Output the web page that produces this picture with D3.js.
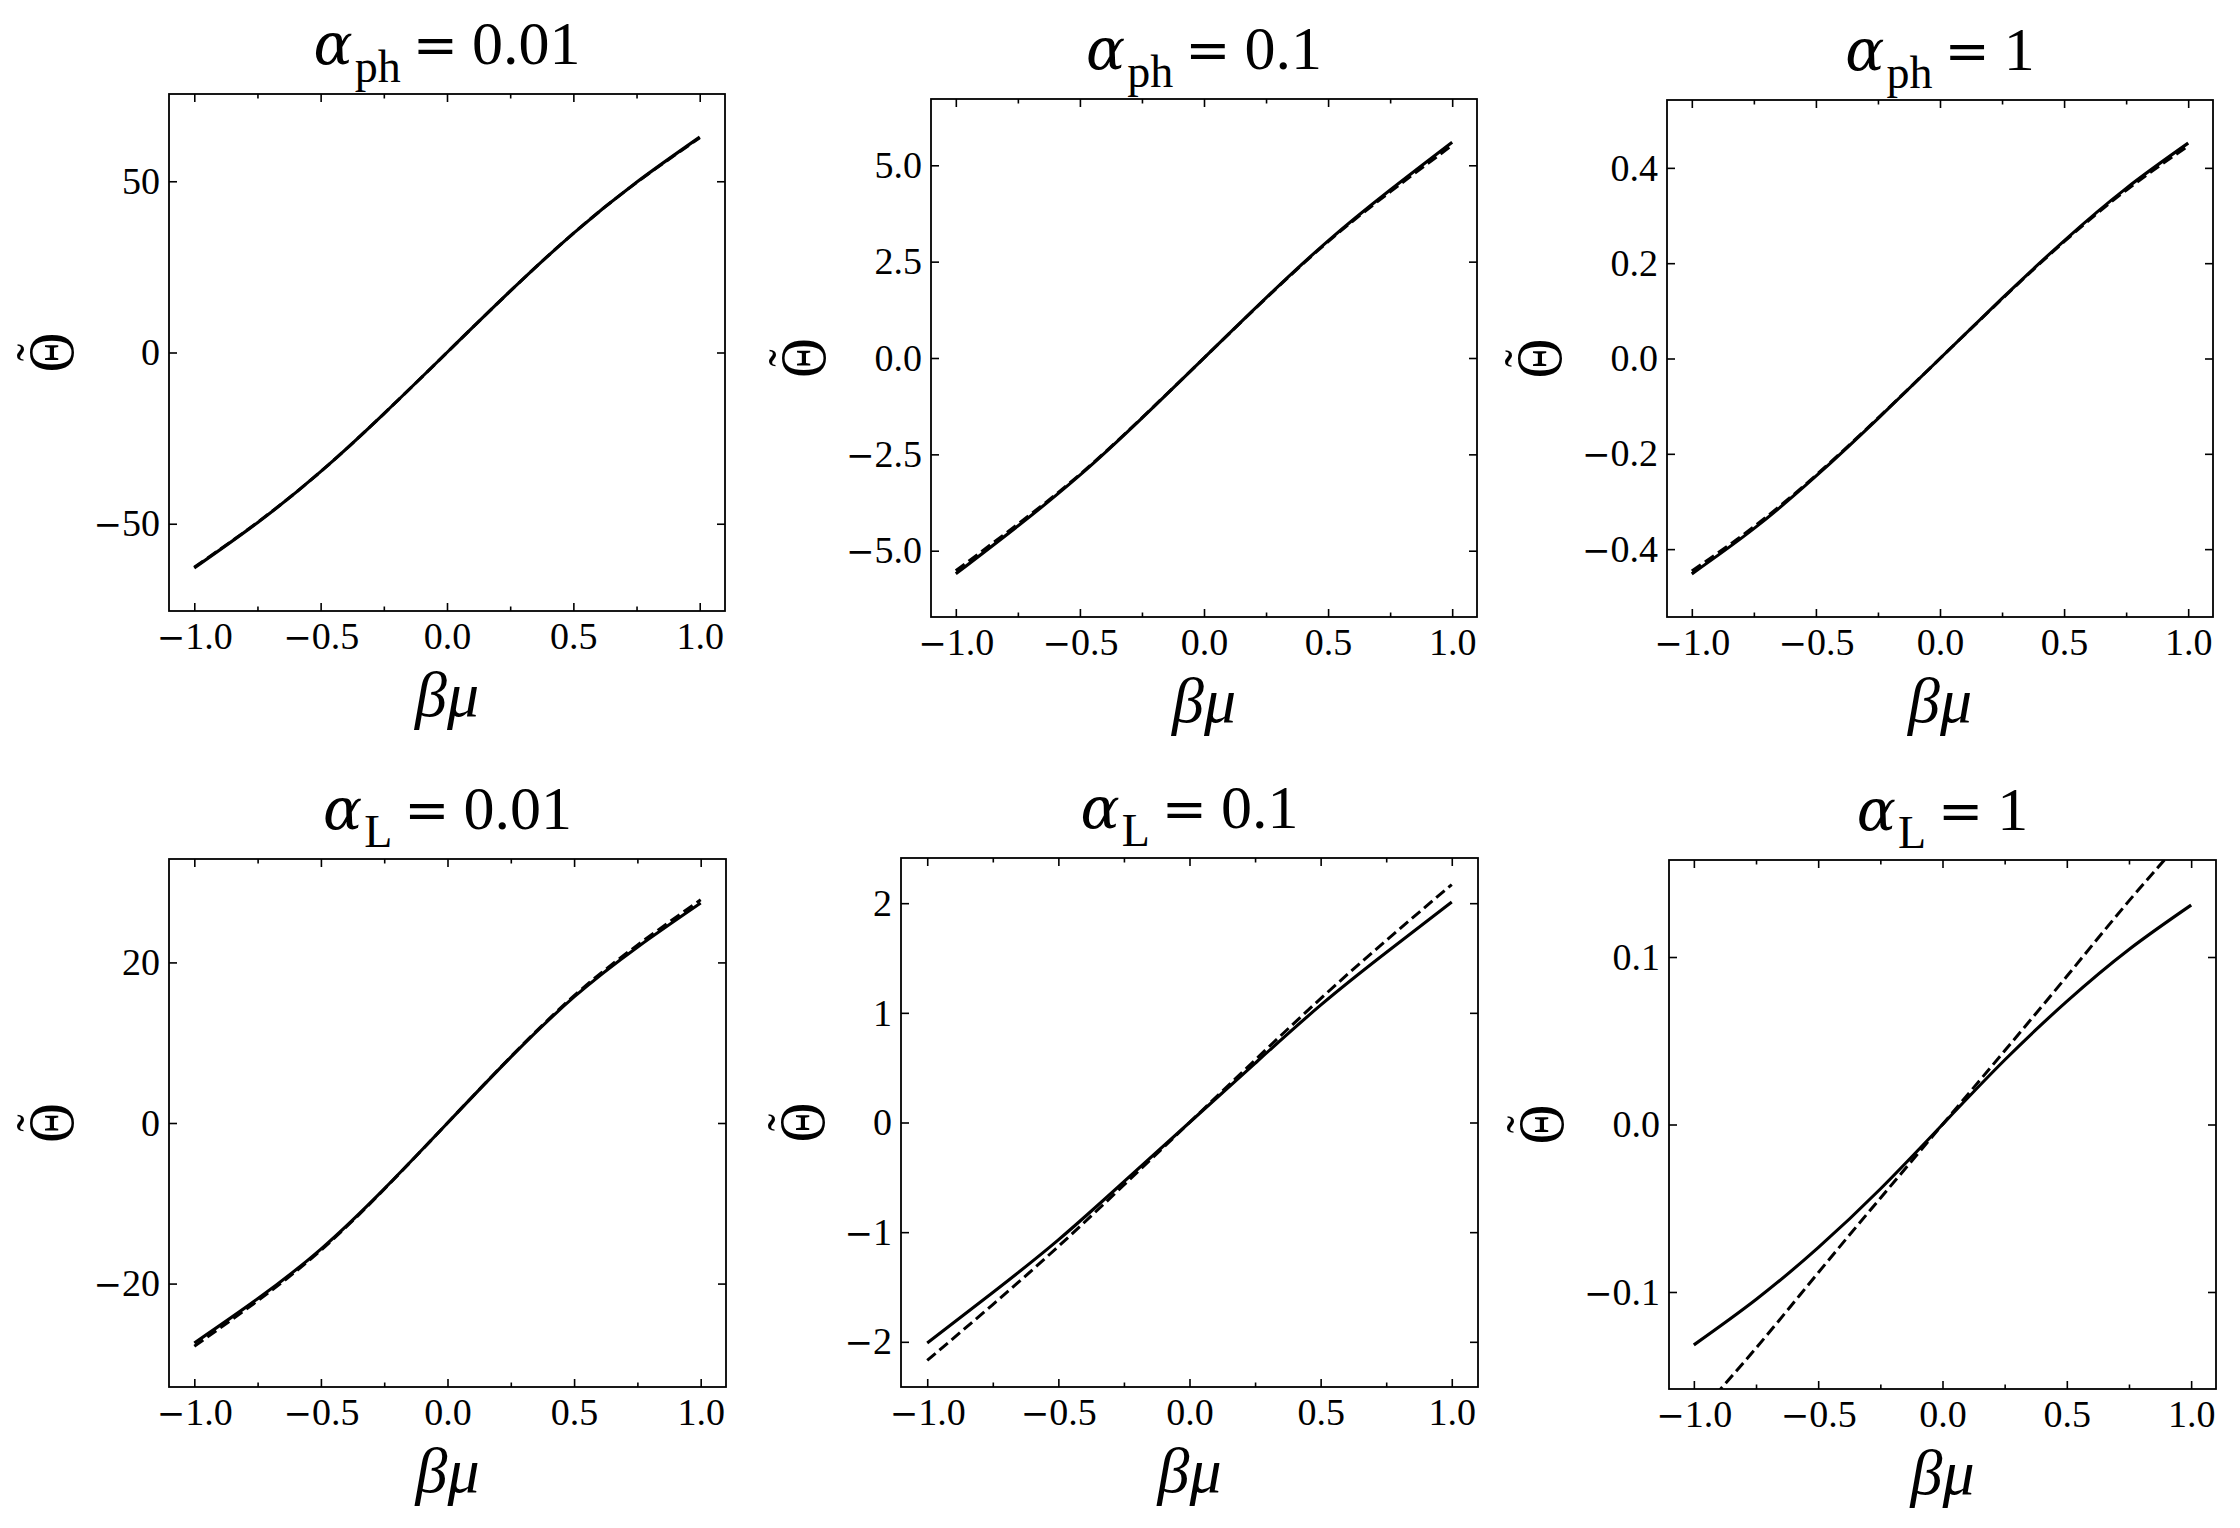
<!DOCTYPE html>
<html><head><meta charset="utf-8">
<script src="https://cdn.jsdelivr.net/npm/d3@7"></script>
<style>body{margin:0;background:#fff} svg{display:block}</style>
</head><body>
<svg id="chart" width="2240" height="1528"></svg>
<script>
// ---- data ----
const xValues = [-1, -0.75, -0.5, -0.25, 0, 0.25, 0.5, 0.75, 1];

const solidPh001  = [-62.9, -49.7, -34.8, -17.9, 0, 17.9, 34.8, 49.7, 62.9];
const dashedPh001 = [-62.7, -49.6, -34.8, -17.9, 0, 17.9, 34.8, 49.6, 62.7];
const solidPh01   = [-5.6, -4.36, -3.04, -1.56, 0, 1.56, 3.04, 4.36, 5.6];
const dashedPh01  = [-5.52, -4.31, -3.02, -1.55, 0, 1.55, 3.02, 4.31, 5.52];
const solidPh1    = [-0.452, -0.357, -0.247, -0.126, 0, 0.126, 0.247, 0.357, 0.452];
const dashedPh1   = [-0.446, -0.353, -0.245, -0.125, 0, 0.125, 0.245, 0.353, 0.446];
const solidL001   = [-27.4, -21.9, -15.7, -8.2, 0, 8.2, 15.7, 21.9, 27.4];
const dashedL001  = [-27.8, -22.15, -15.85, -8.25, 0, 8.25, 15.85, 22.15, 27.8];
const solidL01    = [-2.01, -1.55, -1.07, -0.54, 0, 0.54, 1.07, 1.55, 2.01];
const dashedL01   = [-2.17, -1.66, -1.13, -0.57, 0, 0.57, 1.13, 1.66, 2.17];
const solidL1     = [-0.1316, -0.1045, -0.0735, -0.0385, 0, 0.0385, 0.0735, 0.1045, 0.131];
const dashedL1    = [-0.176, -0.1335, -0.0885, -0.044, 0, 0.044, 0.0885, 0.1335, 0.176];

const titleSubscripts = ["ph", "ph", "ph", "L", "L", "L"];
const titleValues = ["0.01", "0.1", "1", "0.01", "0.1", "1"];
const xTickValues = [-1, -0.5, 0, 0.5, 1];
const xMinorTickValues = [-0.75, -0.25, 0.25, 0.75];
const yTickValues = [
  [-50, 0, 50],
  [-5, -2.5, 0, 2.5, 5],
  [-0.4, -0.2, 0, 0.2, 0.4],
  [-20, 0, 20],
  [-2, -1, 0, 1, 2],
  [-0.1, 0, 0.1]
];
const yTickFormats = ["d", ".1f", ".1f", "d", "d", ".1f"];
const xLabel = "βμ";
const yLabelLetter = "Θ";
const yLabelAccent = "\u02DC";

const solidSeries = [solidPh001, solidPh01, solidPh1, solidL001, solidL01, solidL1];
const dashedSeries = [dashedPh001, dashedPh01, dashedPh1, dashedL001, dashedL01, dashedL1];

// ---- layout ----
const boxes = [
  {l: 169, r: 725, t: 94, b: 611},
  {l: 931, r: 1477, t: 99, b: 617},
  {l: 1667, r: 2213, t: 100, b: 617},
  {l: 169, r: 726, t: 859, b: 1387},
  {l: 901, r: 1478, t: 858, b: 1387},
  {l: 1669, r: 2216, t: 860, b: 1389}
];
const FONT = "'Liberation Serif', 'DejaVu Serif', serif";
const FONT_WIDE = "'DejaVu Serif', 'Liberation Serif', serif";

const svg = d3.select("#chart");
svg.append("rect").attr("width", 2240).attr("height", 1528).attr("fill", "#fff");

// use a longer minus glyph, like the TeX one
function texMinus(sel) {
  sel.each(function() {
    const el = d3.select(this);
    const s = el.text();
    if (s.startsWith("−")) {
      el.text("");
      el.append("tspan").style("font-family", FONT_WIDE).style("font-size", "34px").text("−");
      el.append("tspan").text(s.slice(1));
    }
  });
}

boxes.forEach((bx, i) => {
  const w = bx.r - bx.l, h = bx.b - bx.t;
  const g = svg.append("g").attr("transform", `translate(${bx.l},${bx.t})`);
  const x = d3.scaleLinear().domain([-1.1, 1.1]).range([0, w]);
  const m = d3.max(solidSeries[i], v => Math.abs(v)) * 1.2;
  const y = d3.scaleLinear().domain([-m, m]).range([h, 0]);

  const clipId = "clip" + i;
  g.append("clipPath").attr("id", clipId).append("rect").attr("width", w).attr("height", h);

  const line = d3.line().x((d, k) => x(xValues[k])).y(d => y(d)).curve(d3.curveNatural);
  const lines = g.append("g").attr("clip-path", `url(#${clipId})`);
  lines.append("path").datum(dashedSeries[i]).attr("d", line)
    .attr("fill", "none").attr("stroke", "#000").attr("stroke-width", 3)
    .attr("stroke-dasharray", "11,5");
  lines.append("path").datum(solidSeries[i]).attr("d", line)
    .attr("fill", "none").attr("stroke", "#000").attr("stroke-width", 3.1);

  const fmtY = d3.format(yTickFormats[i]);
  const fmtX = d3.format(".1f");

  const styleAxis = sel => {
    sel.select(".domain").remove();
    sel.selectAll(".tick line").attr("stroke", "#000").attr("stroke-width", 1.6);
    sel.selectAll(".tick text").attr("fill", "#000").style("font-family", FONT).style("font-size", "38px")
      .call(texMinus);
  };

  // bottom
  g.append("g").attr("transform", `translate(0,${h})`)
    .call(d3.axisBottom(x).tickValues(xTickValues).tickSize(-8).tickPadding(11).tickFormat(fmtX))
    .call(styleAxis);
  g.append("g").attr("transform", `translate(0,${h})`)
    .call(d3.axisBottom(x).tickValues(xMinorTickValues).tickSize(-4.5).tickFormat(""))
    .call(styleAxis);
  // top
  g.append("g").call(d3.axisTop(x).tickValues(xTickValues).tickSize(-8).tickFormat("")).call(styleAxis);
  g.append("g").call(d3.axisTop(x).tickValues(xMinorTickValues).tickSize(-4.5).tickFormat("")).call(styleAxis);
  // left
  const yAx = g.append("g")
    .call(d3.axisLeft(y).tickValues(yTickValues[i]).tickSize(-8).tickPadding(9).tickFormat(fmtY))
    .call(styleAxis);
  // right
  g.append("g").attr("transform", `translate(${w},0)`)
    .call(d3.axisRight(y).tickValues(yTickValues[i]).tickSize(-8).tickFormat("")).call(styleAxis);

  // frame
  g.append("rect").attr("width", w).attr("height", h).attr("fill", "none")
    .attr("stroke", "#000").attr("stroke-width", 1.8);

  // title
  const t = g.append("text").attr("x", w / 2).attr("y", -30).attr("text-anchor", "middle")
    .style("font-family", FONT).style("font-size", "62px").attr("fill", "#000");
  t.append("tspan").style("font-family", FONT_WIDE).style("font-style", "italic")
    .style("font-size", "58px").style("font-weight", "300").text("α");
  t.append("tspan").style("font-size", "46px").attr("dy", 18).attr("dx", 2).text(titleSubscripts[i]);
  t.append("tspan").attr("dy", -18).attr("dx", 12)
    .style("font-family", FONT_WIDE).style("font-size", "54px").text("=");
  t.append("tspan").attr("dx", 14).text(titleValues[i]);

  // x label
  g.append("text").attr("x", w / 2).attr("y", h + 105).attr("text-anchor", "middle")
    .style("font-family", FONT).style("font-size", "64px").style("font-style", "italic")
    .attr("fill", "#000").text(xLabel);

  // y label (rotated Theta with tilde accent)
  let minLeft = 0;
  yAx.selectAll(".tick text").each(function() {
    const bb = this.getBBox();
    minLeft = Math.min(minLeft, bb.x);
  });
  const yl = g.append("g").attr("transform", `translate(${minLeft - 21},${h / 2}) rotate(-90)`);
  yl.append("text").attr("text-anchor", "middle").attr("transform", "scale(0.88,1.05)")
    .style("font-family", FONT).style("font-size", "62px")
    .attr("fill", "#000").text(yLabelLetter);
  yl.append("text").attr("text-anchor", "middle").attr("y", -20)
    .style("font-family", FONT).style("font-size", "52px")
    .attr("fill", "#000").text(yLabelAccent);
});
</script>
</body></html>
